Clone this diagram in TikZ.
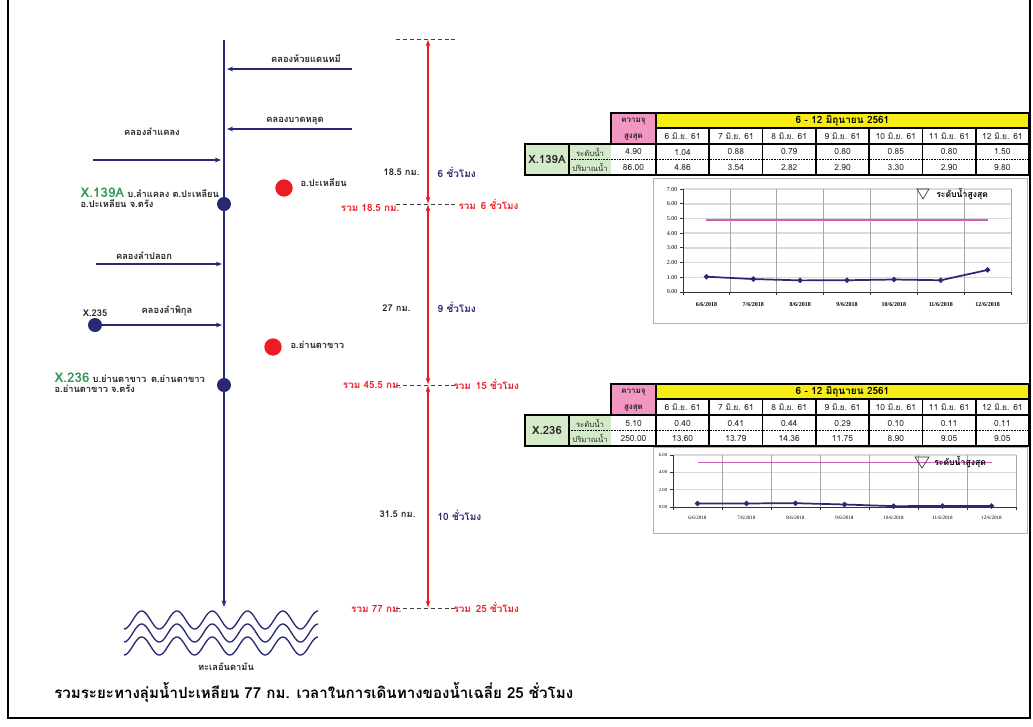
\documentclass[tikz,border=0pt]{standalone}
\usepackage{fontspec}
\setmainfont{Liberation Sans}
\newfontfamily\thai[Script=Thai]{Loma}
\newfontfamily\chartfont{Liberation Serif}
\usetikzlibrary{arrows.meta,positioning,shapes.geometric}
\definecolor{RiverBlue}{RGB}{40,40,115}
\definecolor{DotRed}{RGB}{237,28,36}
\definecolor{StnGreen}{RGB}{46,155,85}
\definecolor{CellGreen}{RGB}{212,234,200}
\definecolor{CellPink}{RGB}{242,150,194}
\definecolor{CellYellow}{RGB}{248,236,22}
\definecolor{MaxPink}{RGB}{205,95,185}
\definecolor{GridGray}{RGB}{218,218,218}
\tikzset{
 plh frame/.style={draw=black,line width=.8pt},
 plh river/.style={draw=RiverBlue,line width=1.4pt,-{Stealth[length=5pt,width=3.5pt]}},
 plh branch/.style={draw=RiverBlue,line width=.9pt,-{Stealth[length=4.5pt,width=3.5pt]}},
 plh sea/.style={draw=RiverBlue,line width=1pt},
 plh station/.style={circle,fill=RiverBlue,minimum size=10.5pt,inner sep=0pt},
 plh amphoe/.style={circle,fill=DotRed,minimum size=13pt,inner sep=0pt},
 plh label/.style={font=\thai\bfseries\fontsize{7}{8}\selectfont,text=black!85,inner sep=1pt},
 plh span/.style={draw=DotRed,line width=.9pt,
   {Stealth[length=5pt,width=3.5pt]}-{Stealth[length=5pt,width=3.5pt]},
   shorten <=.5pt,shorten >=.5pt},
 plh level/.style={draw=black!75,line width=.5pt,dash pattern=on 3pt off 2.2pt},
 plh km/.style={font=\thai\bfseries\fontsize{7}{8}\selectfont,text=black!85,inner sep=1pt,anchor=east},
 plh hr/.style={font=\thai\bfseries\fontsize{7.5}{8}\selectfont,text=RiverBlue,inner sep=1pt,anchor=west},
 plh sum/.style={font=\thai\bfseries\fontsize{7.4}{8}\selectfont,text=DotRed,inner sep=1pt},
 tbl rule/.style={draw=black,line width=1.3pt},
 tbl dots/.style={draw=black,line width=1pt,dash pattern=on .6pt off .6pt},
 tbl text/.style={font=\thai\fontsize{6.3}{7}\selectfont,text=black!85,inner sep=0pt},
 tbl small/.style={font=\thai\fontsize{5.8}{7}\selectfont,text=black!85,inner sep=0pt},
 tbl bold/.style={font=\thai\bfseries\fontsize{6}{7}\selectfont,text=black!85,inner sep=0pt},
 tbl head/.style={font=\thai\bfseries\fontsize{7.5}{8}\selectfont,inner sep=0pt},
 tbl station/.style={font=\thai\bfseries\fontsize{8.5}{9}\selectfont,text=black!85,inner sep=0pt},
 chart box/.style={draw=black!30,line width=.6pt},
 chart hgrid/.style={draw=GridGray,line width=1.2pt},
 chart vgrid/.style={draw=black!35,line width=.4pt},
 chart axis/.style={draw=black!80,line width=.7pt},
 chart ylab/.style={font=\chartfont\fontsize{4.5}{5}\selectfont,anchor=east,inner sep=2pt},
 chart xlab/.style={font=\chartfont\bfseries\fontsize{4.5}{5}\selectfont,inner sep=0pt},
 chart max/.style={draw=MaxPink,line width=1pt},
 chart level/.style={draw=RiverBlue,line width=1.3pt},
 chart mark/.style={diamond,fill=RiverBlue,minimum size=4.5pt,inner sep=0pt},
 chart legend/.style={font=\thai\bfseries\fontsize{6.5}{7}\selectfont,anchor=west,inner sep=0pt},
}
% #1 y shift, #2 name tag, #3 station, #4 max level, #5 max flow, #6 day/level/flow
\newcommand\plhtable[6]{%
 \begin{scope}[shift={(0,#1)}]
  \fill[CellYellow] (656,113) rectangle (1029,128);
  \fill[CellPink] (611,113) rectangle (656,144);
  \fill[CellGreen] (525,144) rectangle (611,175);
  \draw[tbl dots] (569,159.5) -- (1029,159.5);
  \draw[tbl rule] (611,113) -- (1029,113) -- (1029,175) -- (525,175) -- (525,144) -- (611,144) -- cycle;
  \draw[tbl rule] (656,128) -- (1029,128) (611,144) -- (1029,144)
     (656,113) -- (656,175) (569,144) -- (569,175);
  \node[tbl head] (#2head) at (842.5,120.5) {6 - 12 มิถุนายน 2561};
  \node[tbl bold] (#2capa) at (633.5,121) {ความจุ};
  \node[tbl bold] (#2capb) at (633.5,137) {สูงสุด};
  \node[tbl station] (#2stn) at (547,159.5) {#3};
  \node[tbl small] (#2lv) at (590,152) {ระดับน้ำ};
  \node[tbl small] (#2fl) at (590,167.5) {ปริมาณน้ำ};
  \node[tbl text] (#2maxlv) at (633.5,152) {#4};
  \node[tbl text] (#2maxfl) at (633.5,167.5) {#5};
  \foreach \dy/\lv/\fl [count=\i from 0] in {#6}{
    \draw[tbl rule] (709.3+53.3*\i,128) -- (709.3+53.3*\i,175);
    \node[tbl text] (#2day\dy) at (682.6+53.3*\i,136) {\dy\ มิ.ย. 61};
    \node[tbl text] (#2lv\dy) at (682.6+53.3*\i,152) {\lv};
    \node[tbl text] (#2fl\dy) at (682.6+53.3*\i,167.5) {\fl};
  }
 \end{scope}}

\begin{document}
\begin{tikzpicture}[x=.75pt,y=-.75pt]
 \useasboundingbox (0,0) rectangle (1033,726);
 \draw[plh frame] (8,-2) rectangle (1030,718);

 % main river and tributaries
 \coordinate (src) at (224,40);
 \coordinate (mouth) at (224,607);
 \draw[plh river] (src) -- (mouth);
 \foreach \n/\xa/\xb/\y in {hdm/352/227/69,bdl/352/227/129,lkl/93/221/160,lpl/96/222/264}{
   \coordinate (\n a) at (\xa,\y);
   \coordinate (\n b) at (\xb,\y);
   \draw[plh branch] (\n a) -- (\n b);
 }
 \node[plh station] (x235) at (95,325) {};
 \coordinate (lpkb) at (222,325);
 \draw[plh branch] (x235) -- (lpkb);
 \node[plh label] (lhdm) at (306,59) {คลองห้วยแดนหมี};
 \node[plh label] (lbdl) at (295,121) {คลองบาดหลุด};
 \node[plh label] (llkl) at (152,132) {คลองลำแคลง};
 \node[plh label] (llpl) at (144,256) {คลองลำปลอก};
 \node[plh label] (llpk) at (167,311) {คลองลำพิกุล};
 \node[plh label,above=0pt of x235] (lx235) {X.235};

 % stations
 \node[plh station] (x139) at (224,204) {};
 \node[plh station] (x236) at (224,385) {};
 \node[plh label,anchor=west] (s139a) at (79,193)
   {{\fontsize{10}{10}\selectfont\color{StnGreen}X.139A} บ.ลำแคลง ต.ปะเหลียน};
 \node[plh label,anchor=north west] (s139b) at ([yshift=1pt]s139a.south west) {อ.ปะเหลียน จ.ตรัง};
 \node[plh label,anchor=west] (s236a) at (53,378)
   {{\fontsize{10}{10}\selectfont\color{StnGreen}X.236} บ.ย่านตาขาว\enspace ต.ย่านตาขาว};
 \node[plh label,anchor=north west] (s236b) at ([yshift=1pt]s236a.south west) {อ.ย่านตาขาว จ.ตรัง};

 % districts
 \node[plh amphoe] (apl) at (284,188) {};
 \node[plh label,anchor=west] (lapl) at (299,183) {อ.ปะเหลียน};
 \node[plh amphoe] (aytk) at (273,347) {};
 \node[plh label,anchor=west] (laytk) at (289,345) {อ.ย่านตาขาว};

 % sea
 \foreach \yc in {620,633,646}
   \draw[plh sea] plot[domain=0:194,samples=160,smooth] (124+\x,{\yc+9*cos(\x*10.2)});
 \node[plh label] (lsea) at (226,667) {ทะเลอันดามัน};

 % distance scale
 \foreach \m/\y in {0/39,1/204,2/385,3/608}{
   \coordinate (m\m) at (428,\y);
   \coordinate (ml\m) at (396,\y);
   \coordinate (mr\m) at (455,\y);
   \draw[plh level] (ml\m) -- (mr\m);
 }
 \draw[plh span] (m0) -- (m1);
 \draw[plh span] (m1) -- (m2);
 \draw[plh span] (m2) -- (m3);
 \node[plh km] (k1) at (421,172) {18.5 กม.};
 \node[plh hr] (h1) at (436,172) {6 ชั่วโมง};
 \node[plh km] (k2) at (412,308) {27 กม.};
 \node[plh hr] (h2) at (436,307) {9 ชั่วโมง};
 \node[plh km] (k3) at (417,514) {31.5 กม.};
 \node[plh hr] (h3) at (436,515) {10 ชั่วโมง};
 \node[plh sum,anchor=east] (t1) at (401,208) {รวม 18.5 กม.};
 \node[plh sum,anchor=west] (r1) at (457,204) {รวม\enspace 6 ชั่วโมง};
 \node[plh sum,anchor=east] (t2) at (403,385) {รวม 45.5 กม.};
 \node[plh sum,anchor=west] (r2) at (452,384) {รวม\enspace 15 ชั่วโมง};
 \node[plh sum,anchor=east] (t3) at (403,609) {รวม 77 กม.};
 \node[plh sum,anchor=west] (r3) at (452,607) {รวม\enspace 25 ชั่วโมง};

 % tables
 \plhtable{0}{ta}{X.139A}{4.90}{86.00}
   {6/1.04/4.86,7/0.88/3.54,8/0.79/2.82,9/0.80/2.90,10/0.85/3.30,11/0.80/2.90,12/1.50/9.80}
 \plhtable{271}{tb}{X.236}{5.10}{250.00}
   {6/0.40/13.60,7/0.41/13.79,8/0.44/14.36,9/0.29/11.75,10/0.10/8.90,11/0.11/9.05,12/0.11/9.05}

 % chart X.139A
 \draw[chart box] (653,178) rectangle (1027,323);
 \begin{scope}[shift={(683,292)},x=35.15pt,y=11.03pt]
  \foreach \v in {1,...,7} \draw[chart hgrid] (0,\v) -- (7,\v);
  \foreach \c in {1,...,7} \draw[chart vgrid] (\c,0) -- (\c,7);
  \foreach \c in {0,...,7} \draw[chart axis] (\c,0) -- (\c,-.2);
  \foreach \v in {0,...,7}{
    \draw[chart axis] (0,\v) -- (-.06,\v);
    \node[chart ylab] (ya\v) at (-.06,\v) {\v.00};
  }
  \draw[chart axis] (0,7) -- (0,0) -- (7,0);
  \foreach \dy [count=\c from 0] in {6,...,12}
    \node[chart xlab] (xa\dy) at (\c+.5,-.88) {\dy/6/2018};
  \draw[chart max] (.5,4.9) -- (6.5,4.9);
  \foreach \v [count=\c] in {1.04,.88,.79,.80,.85,.80,1.50} \coordinate (pa\c) at (\c-.5,\v);
  \draw[chart level] (pa1) -- (pa2) -- (pa3) -- (pa4) -- (pa5) -- (pa6) -- (pa7);
  \foreach \c in {1,...,7} \node[chart mark] (ma\c) at (pa\c) {};
 \end{scope}
 \draw[chart axis,line width=.5pt] (917,189) -- (929,189) -- (923,199) -- cycle;
 \node[chart legend] (lga) at (936,194) {ระดับน้ำสูงสุด};

 % chart X.236
 \draw[chart box] (653,447) rectangle (1027,533);
 \begin{scope}[shift={(673,507)},x=36.75pt,y=6.5pt]
  \foreach \v in {2,4,6} \draw[chart hgrid] (0,\v) -- (7,\v);
  \foreach \c in {1,...,7} \draw[chart vgrid] (\c,0) -- (\c,6);
  \foreach \c in {0,...,7} \draw[chart axis] (\c,0) -- (\c,-.35);
  \foreach \v in {0,2,4,6}{
    \draw[chart axis] (0,\v) -- (-.06,\v);
    \node[chart ylab,font=\chartfont\fontsize{3.5}{4}\selectfont] (yb\v) at (-.06,\v) {\v.00};
  }
  \draw[chart axis] (0,6) -- (0,0) -- (7,0);
  \foreach \dy [count=\c from 0] in {6,...,12}
    \node[chart xlab,font=\chartfont\fontsize{3.8}{4}\selectfont] (xb\dy) at (\c+.5,-1.3) {\dy/6/2018};
  \draw[chart max] (.5,5.1) -- (6.5,5.1);
  \foreach \v [count=\c] in {.40,.41,.44,.29,.10,.11,.11} \coordinate (pb\c) at (\c-.5,\v);
  \draw[chart level] (pb1) -- (pb2) -- (pb3) -- (pb4) -- (pb5) -- (pb6) -- (pb7);
  \foreach \c in {1,...,7} \node[chart mark] (mb\c) at (pb\c) {};
 \end{scope}
 \draw[chart axis,line width=.5pt] (915,457) -- (929,457) -- (922,468) -- cycle;
 \node[chart legend] (lgb) at (934,462) {ระดับน้ำสูงสุด};

 % summary
 \node[font=\thai\bfseries\fontsize{11.35}{13}\selectfont,anchor=west,inner sep=0pt] (sum) at (54,692)
   {รวมระยะทางลุ่มน้ำปะเหลียน 77 กม. เวลาในการเดินทางของน้ำเฉลี่ย 25 ชั่วโมง};
\end{tikzpicture}
\end{document}
